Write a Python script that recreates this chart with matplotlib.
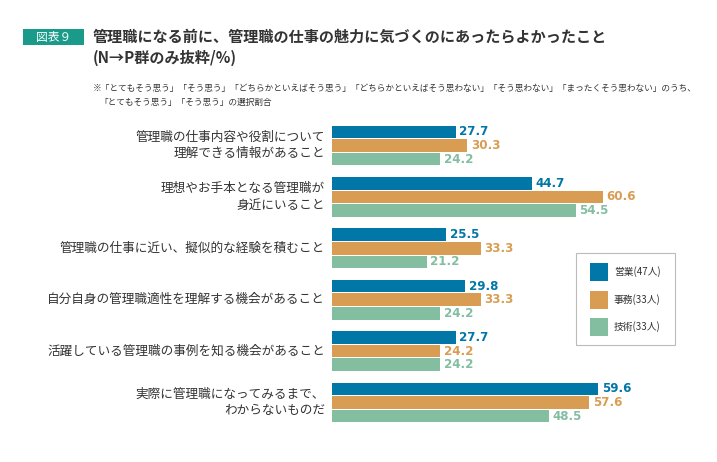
import matplotlib
matplotlib.use("Agg")
import matplotlib.pyplot as plt
from matplotlib.patches import Rectangle
import numpy as np

plt.rcParams['font.family'] = ['Noto Sans CJK JP', 'DejaVu Sans']

categories = [
    "管理職の仕事内容や役割について\n理解できる情報があること",
    "理想やお手本となる管理職が\n身近にいること",
    "管理職の仕事に近い、擬似的な経験を積むこと",
    "自分自身の管理職適性を理解する機会があること",
    "活躍している管理職の事例を知る機会があること",
    "実際に管理職になってみるまで、\nわからないものだ",
]
series_names = ["営業(47人)", "事務(33人)", "技術(33人)"]
eigyo = [27.7, 44.7, 25.5, 29.8, 27.7, 59.6]
jimu = [30.3, 60.6, 33.3, 33.3, 24.2, 57.6]
gijutsu = [24.2, 54.5, 21.2, 24.2, 24.2, 48.5]
series = [eigyo, jimu, gijutsu]
colors = ["#0077a7", "#d89d52", "#83bea0"]

W, H = 717, 462
fig = plt.figure(figsize=(W / 100, H / 100), dpi=100)

# axes placement
x0 = 332
px_per_unit = 4.47
xmax = 80
ax_w = xmax * px_per_unit
pitch = 51.4
first_center = 145.5
top = first_center - pitch / 2
ax_h = pitch * len(categories)
ax = fig.add_axes([x0 / W, 1 - (top + ax_h) / H, ax_w / W, ax_h / H])
ax.set_xlim(0, xmax)
ax.set_ylim(len(categories) - 0.5, -0.5)
ax.axis('off')

off = 13.6 / pitch
bh = 12.6 / pitch
y = np.arange(len(categories))
for k, (vals, c) in enumerate(zip(series, colors)):
    yy = y + (k - 1) * off
    ax.barh(yy, vals, height=bh, color=c, edgecolor='none')
    for yi, v in zip(yy, vals):
        ax.text(v + 0.8, yi, f"{v:.1f}", color=c, fontsize=8.6, fontweight='bold',
                va='center', ha='left', family=['DejaVu Sans'])

for yi, lab in zip(y, categories):
    ax.text(-1.6, yi, lab, ha='right', va='center', fontsize=9.1, color='#333333',
            linespacing=1.3)

# title badge
fig.patches.append(Rectangle((23 / W, 1 - 45 / H), 61 / W, 16 / H, transform=fig.transFigure,
                             facecolor='#1a9b89', edgecolor='none'))
fig.text(53.5 / W, 1 - 37 / H, "図表９", color='white', fontsize=8.5, ha='center', va='center')
fig.text(93 / W, 1 - 37 / H, "管理職になる前に、管理職の仕事の魅力に気づくのにあったらよかったこと",
         fontsize=10.9, fontweight='bold', color='#333333', ha='left', va='center')
fig.text(93 / W, 1 - 58 / H, "(N→P群のみ抜粋/%)",
         fontsize=10.9, fontweight='bold', color='#333333', ha='left', va='center')
fig.text(93 / W, 1 - 88 / H,
         "※「とてもそう思う」「そう思う」「どちらかといえばそう思う」「どちらかといえばそう思わない」「そう思わない」「まったくそう思わない」のうち、",
         fontsize=6.25, color='#333333', ha='left', va='center')
fig.text(99 / W, 1 - 102 / H, "「とてもそう思う」「そう思う」の選択割合",
         fontsize=6.25, color='#333333', ha='left', va='center')

# legend
fig.patches.append(Rectangle((576 / W, 1 - 345 / H), 99 / W, 92 / H, transform=fig.transFigure,
                             facecolor='white', edgecolor='#bbbbbb', linewidth=0.8))
for i, (name, c) in enumerate(zip(series_names, colors)):
    ytop = 263 + i * 27.5
    fig.patches.append(Rectangle((590 / W, 1 - (ytop + 18) / H), 18 / W, 18 / H,
                                 transform=fig.transFigure, facecolor=c, edgecolor='none'))
    fig.text(614 / W, 1 - (ytop + 9) / H, name, fontsize=7, color='#333333',
             ha='left', va='center')

fig.savefig("out.png", dpi=100)
